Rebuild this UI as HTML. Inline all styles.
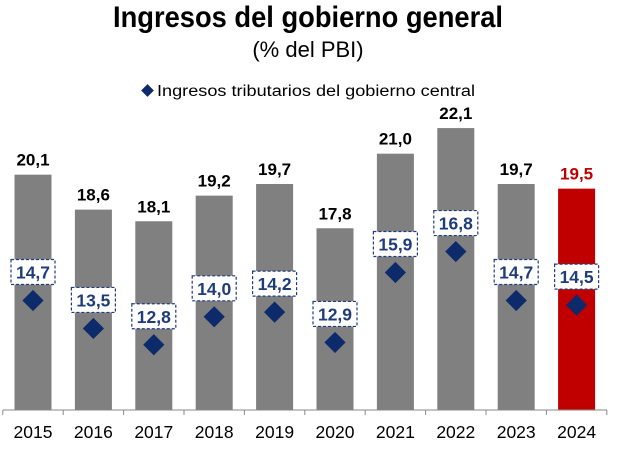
<!DOCTYPE html>
<html><head><meta charset="utf-8"><style>
body{margin:0;background:#fff;}
svg text{font-family:"Liberation Sans",Arial,sans-serif;}
</style></head><body>
<svg id="chart" width="620" height="445" viewBox="0 0 620 445">
<text x="308" y="27" text-anchor="middle" font-size="30" font-weight="bold" font-family="Liberation Sans Narrow, Liberation Sans, sans-serif" textLength="390" lengthAdjust="spacingAndGlyphs">Ingresos del gobierno general</text>
<text x="308" y="57" text-anchor="middle" font-size="22">(% del PBI)</text>
<g>
<rect x="143" y="86" width="9" height="9" fill="#0d2a6b" transform="rotate(45 147.5 90.5)"/>
<text x="157" y="96" font-size="15.5" textLength="318" lengthAdjust="spacingAndGlyphs">Ingresos tributarios del gobierno central</text>
</g>
<g id="bars"></g><g id="marks"></g>
<line x1="3" y1="410" x2="607" y2="410" stroke="#888" stroke-width="1"/>
<g id="ticks"></g>
</svg>
<script>
const years=["2015","2016","2017","2018","2019","2020","2021","2022","2023","2024"];
const totals=[20.1,18.6,18.1,19.2,19.7,17.8,21.0,22.1,19.7,19.5];
const tributarios=[14.7,13.5,12.8,14.0,14.2,12.9,15.9,16.8,14.7,14.5];
const NS="http://www.w3.org/2000/svg";
const yMin=10,y0=410,pxPer=23.3;
const y=v=>y0-(v-yMin)*pxPer;
const x=i=>33+60.4*i;
const fmt=v=>v.toFixed(1).replace('.',',');
function mk(t,a,p){const e=document.createElementNS(NS,t);for(const k in a)e.setAttribute(k,a[k]);p.appendChild(e);return e;}
const B=document.getElementById('bars'),M=document.getElementById('marks'),T=document.getElementById('ticks');
years.forEach((yr,i)=>{
 const last=i===years.length-1;
 const r=mk('rect',{x:x(i)-18.5,y:y(totals[i]),width:37,height:y0-y(totals[i]),fill:last?'#c00000':'#808080'},B);
 
 
 const t=mk('text',{x:x(i),y:y(totals[i])-9,'text-anchor':'middle','font-size':17,'font-weight':'bold',fill:last?'#c00000':'#000'},B);
 t.textContent=fmt(totals[i]);
 
 
 const py=y(tributarios[i]);
 const d=mk('rect',{x:x(i)-7.5,y:py-7.5,width:15,height:15,fill:'#0d2a6b',transform:`rotate(45 ${x(i)} ${py})`},M);
 
 
 const b=mk('rect',{x:x(i)-22,y:py-41,width:44,height:25,fill:'#fff',stroke:'#1f3c7a','stroke-width':1.2,'stroke-dasharray':'3,2'},M);
 
 
 const l=mk('text',{x:x(i),y:py-22,'text-anchor':'middle','font-size':17.5,'font-weight':'bold',fill:'#1f3c7a'},M);
 l.textContent=fmt(tributarios[i]);
 
 
 const tk=mk('line',{x1:x(i)-30.2,y1:410,x2:x(i)-30.2,y2:415,stroke:'#888'},T);
 
 
 const yl=mk('text',{x:x(i),y:438,'text-anchor':'middle','font-size':17.5},T);
 yl.textContent=yr;
 
 
});
const lt=mk('line',{x1:x(9)+30.2,y1:410,x2:x(9)+30.2,y2:415,stroke:'#888'},T);


</script>
</body></html>
